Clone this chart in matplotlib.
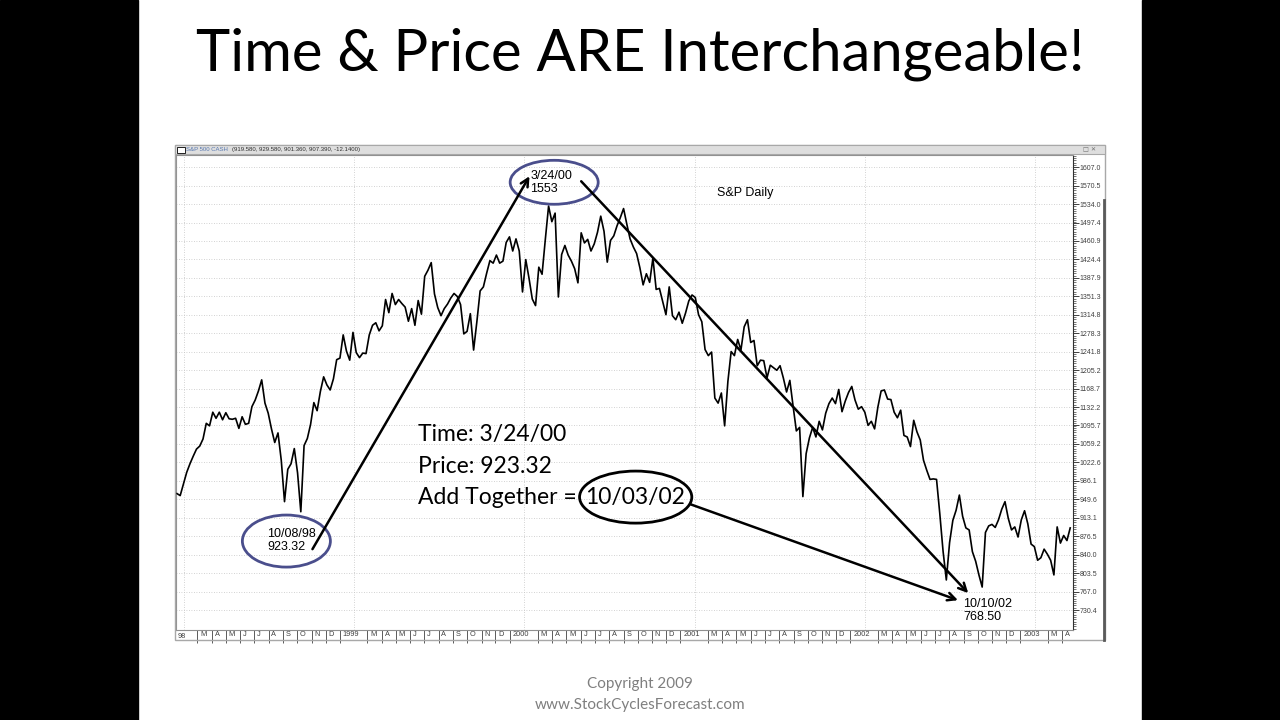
import matplotlib
matplotlib.use("Agg")
import matplotlib.pyplot as plt
import matplotlib.dates as mdates
import matplotlib.transforms as mtrans
from matplotlib.patches import Ellipse, Rectangle
from matplotlib.lines import Line2D
import numpy as np
import pandas as pd

close_1998 = [961, 957, 980, 1003, 1020, 1035, 1049, 1055, 1069, 1100, 1095,
              1122, 1110, 1122, 1107, 1121, 1109, 1108, 1110, 1090, 1113, 1098,
              1100, 1133, 1146, 1164, 1186, 1140, 1120, 1089, 1062, 1081, 1027,
              945, 1009, 1020, 1050, 1002, 925, 1056, 1070, 1098, 1141, 1125,
              1163, 1192, 1176, 1166, 1188, 1226]
close_1999 = [1229, 1275, 1243, 1225, 1280, 1240, 1230, 1239, 1238, 1275, 1294,
              1299, 1283, 1293, 1345, 1319, 1357, 1335, 1345, 1337, 1330, 1302,
              1327, 1294, 1343, 1316, 1391, 1403, 1418, 1356, 1329, 1313, 1327,
              1336, 1348, 1357, 1351, 1335, 1277, 1282, 1317, 1245, 1301, 1362,
              1370, 1397, 1422, 1417, 1433, 1417, 1421, 1458, 1469]
close_2000 = [1441, 1465, 1441, 1360, 1424, 1387, 1346, 1333, 1409, 1395, 1464,
              1530, 1499, 1516, 1350, 1434, 1452, 1433, 1421, 1406, 1378, 1477,
              1457, 1464, 1441, 1455, 1478, 1510, 1480, 1419, 1462, 1471, 1491,
              1507, 1525, 1494, 1465, 1449, 1436, 1408, 1374, 1396, 1379, 1427,
              1365, 1367, 1341, 1315, 1370, 1313, 1305, 1320]
close_2001 = [1298, 1318, 1342, 1354, 1349, 1315, 1301, 1246, 1234, 1241, 1150,
              1140, 1160, 1095, 1183, 1242, 1234, 1266, 1245, 1291, 1305, 1260,
              1264, 1214, 1225, 1224, 1190, 1215, 1210, 1205, 1214, 1190, 1162,
              1185, 1134, 1085, 1092, 955, 1040, 1071, 1092, 1073, 1104, 1087,
              1120, 1139, 1150, 1139, 1167, 1123, 1144, 1161]
close_2002 = [1173, 1146, 1128, 1133, 1122, 1096, 1104, 1089, 1132, 1164, 1166,
              1148, 1147, 1122, 1111, 1126, 1076, 1073, 1054, 1106, 1083, 1067,
              1027, 1007, 989, 990, 989, 921, 847, 790, 864, 908, 928, 958, 916,
              893, 889, 846, 827, 800, 776, 884, 897, 900, 894, 909, 930, 945,
              912, 889, 895, 875]
close_2003 = [909, 927, 901, 861, 856, 829, 834, 851, 841, 829, 800, 895, 863,
              878, 868, 893]
first_fridays = ["1998-01-16", "1999-01-01", "2000-01-07", "2001-01-05",
                 "2002-01-04", "2003-01-03"]

price_labels = ["730.4", "767.0", "803.5", "840.0", "876.5", "913.1", "949.6",
                "986.1", "1022.6", "1059.2", "1095.7", "1132.2", "1168.7",
                "1205.2", "1241.8", "1278.3", "1314.8", "1351.3", "1387.9",
                "1424.4", "1460.9", "1497.4", "1534.0", "1570.5", "1607.0"]

parts = []
for start, vals in zip(first_fridays, [close_1998, close_1999, close_2000,
                                       close_2001, close_2002, close_2003]):
    idx = pd.date_range(start, periods=len(vals), freq="W-FRI")
    parts.append(pd.Series(vals, index=idx))
sp = pd.concat(parts)

W, H = 1280, 720
fig = plt.figure(figsize=(12.8, 7.2), dpi=100)
fig.patch.set_facecolor("white")


def fx(px):
    return px / W


def fy(py):
    return 1 - py / H


# black side bars of the slide
fig.patches.append(Rectangle((0, 0), fx(138), 1, transform=fig.transFigure,
                             color="black", zorder=0))
fig.patches.append(Rectangle((fx(1142), 0), 1, 1, transform=fig.transFigure,
                             color="black", zorder=0))

fig.text(0.5, fy(54), "Time & Price ARE Interchangeable!", ha="center",
         va="center", fontsize=41.8, family="Lato", color="black")
fig.text(0.5, fy(684), "Copyright 2009", ha="center", va="center",
         fontsize=11, family="Lato", color="#7f7f7f")
fig.text(0.5, fy(705), "www.StockCyclesForecast.com", ha="center",
         va="center", fontsize=11, family="Lato", color="#7f7f7f")

# chart window frame and title bar
fig.patches.append(Rectangle((fx(175), fy(640)), fx(930), 495 / H,
                             transform=fig.transFigure, fill=False,
                             edgecolor="#a8a8a8", lw=1, zorder=1))
fig.patches.append(Rectangle((fx(175), fy(154)), fx(930), 9 / H,
                             transform=fig.transFigure, facecolor="#dedede",
                             edgecolor="#a8a8a8", lw=0.8, zorder=1))
fig.patches.append(Rectangle((fx(177), fy(152.5)), fx(8), 5.5 / H,
                             transform=fig.transFigure, facecolor="white",
                             edgecolor="black", lw=0.6, zorder=2))
fig.text(fx(186), fy(149.5), "S&P 500 CASH", fontsize=4.3, va="center",
         color="#5878b0", family="Liberation Sans")
fig.text(fx(232), fy(149.5), "(919.580, 929.580, 901.360, 907.390, -12.1400)",
         fontsize=4.3, va="center", color="#303030", family="Liberation Sans")
fig.text(fx(1083), fy(149.5), "\u25a1 \u2715", fontsize=4.5, va="center",
         color="#707070", family="DejaVu Sans")
fig.lines.append(Line2D([fx(1104), fx(1104)], [fy(200), fy(640)],
                        transform=fig.transFigure, color="#5a5a5a", lw=2))

ax = fig.add_axes([fx(176), fy(630), fx(897), 475 / H])
ax.set_facecolor("white")
ax.plot(sp.index, sp.values, color="black", lw=1.2, zorder=3)

# price axis on the right, ruler-like minor ticks
ticks = [float(v) for v in price_labels]
ax.yaxis.tick_right()
ax.set_yticks(ticks)
ax.set_yticklabels(price_labels)
step = (ticks[-1] - ticks[0]) / (len(ticks) - 1)
ax.set_yticks(np.arange(ticks[0] - 3 * step, 1631, step / 8), minor=True)
ax.tick_params(axis="y", which="major", length=4, width=0.7, pad=1,
               labelsize=5.0, colors="#404040")
ax.tick_params(axis="y", which="minor", length=2.5, width=0.5, colors="#404040")
for lab in ax.get_yticklabels():
    lab.set_family("Liberation Sans")

# month axis: year on January, February left blank
months = pd.date_range("1998-02-01", "2003-04-01", freq="MS")
major = [m for m in months if m.month != 2]
labels = [str(m.year) if m.month == 1 else m.strftime("%b")[0] for m in major]
ax.set_xticks(mdates.date2num(months), minor=True)
ax.set_xticks(mdates.date2num(major))
ax.set_xticklabels(labels)
ax.tick_params(axis="x", which="major", length=9, width=0.6, direction="out",
               pad=-8, labelsize=5.3, colors="#404040")
ax.tick_params(axis="x", which="minor", length=0)
offset = mtrans.ScaledTranslation(2 / 72, 0, fig.dpi_scale_trans)
for lab in ax.get_xticklabels():
    lab.set_horizontalalignment("left")
    lab.set_family("Liberation Sans")
    lab.set_transform(lab.get_transform() + offset)

# limits last, so the tick setters cannot widen them
ax.set_xlim(pd.Timestamp("1998-01-14"), pd.Timestamp("2003-04-24"))
ax.set_ylim(691, 1631)

ax.text(0.002, -0.006, "98", transform=ax.transAxes, ha="left", va="top",
        fontsize=5.3, color="#404040", family="Liberation Sans")

ax.grid(axis="x", which="minor", color="#c4c4c4", ls=(0, (1, 2)), lw=0.6)
ax.grid(axis="y", which="major", color="#c4c4c4", ls=(0, (1, 2)), lw=0.6)
for side in ["top", "left", "bottom"]:
    ax.spines[side].set_color("#909090")
    ax.spines[side].set_linewidth(0.8)
ax.spines["right"].set_color("#303030")

D = pd.Timestamp
num = mdates.date2num
ring = "#4a4e8c"
ax.add_patch(Ellipse((num(D("1998-09-08")), 867), 189, 103, fill=False,
                     edgecolor=ring, lw=2, zorder=5))
ax.add_patch(Ellipse((num(D("2000-04-05")), 1577), 189, 87, fill=False,
                     edgecolor=ring, lw=2, zorder=5))
ax.add_patch(Ellipse((num(D("2000-09-27")), 954), 241, 103, fill=False,
                     edgecolor="black", lw=2, zorder=5))

small = dict(fontsize=9, family="Liberation Sans", color="black", zorder=6)
ax.text(D("1998-09-19"), 868, "10/08/98\n923.32", ha="center", va="center",
        multialignment="left", linespacing=1.1, **small)
ax.text(D("2000-02-14"), 1576, "3/24/00\n1553", ha="left", va="center",
        linespacing=1.1, **small)
ax.text(D("2001-03-20"), 1556, "S&P Daily", ha="left", va="center", **small)
ax.text(D("2002-08-31"), 729, "10/10/02\n768.50", ha="left", va="center",
        linespacing=1.1, **small)

big = dict(fontsize=16.5, family="Lato", color="black", zorder=6,
           ha="left", va="center")
ax.text(D("1999-06-17"), 1077, "Time: 3/24/00", **big)
ax.text(D("1999-06-17"), 1015, "Price: 923.32", **big)
ax.text(D("1999-06-17"), 954, "Add Together =", **big)
ax.text(D("2000-09-25"), 954, "10/03/02", fontsize=16.5, family="Lato",
        ha="center", va="center", zorder=6)

arrow = dict(arrowstyle="->", color="black", lw=1.8, mutation_scale=14,
             shrinkA=0, shrinkB=0)
ax.annotate("", xy=(D("2000-02-12"), 1589), xytext=(D("1998-11-03"), 851),
            arrowprops=arrow, zorder=6)
ax.annotate("", xy=(D("2002-09-11"), 764), xytext=(D("2000-06-02"), 1579),
            arrowprops=arrow, zorder=6)
ax.annotate("", xy=(D("2002-08-20"), 750), xytext=(D("2001-01-22"), 940),
            arrowprops=arrow, zorder=6)

fig.savefig("out.png", dpi=100)
